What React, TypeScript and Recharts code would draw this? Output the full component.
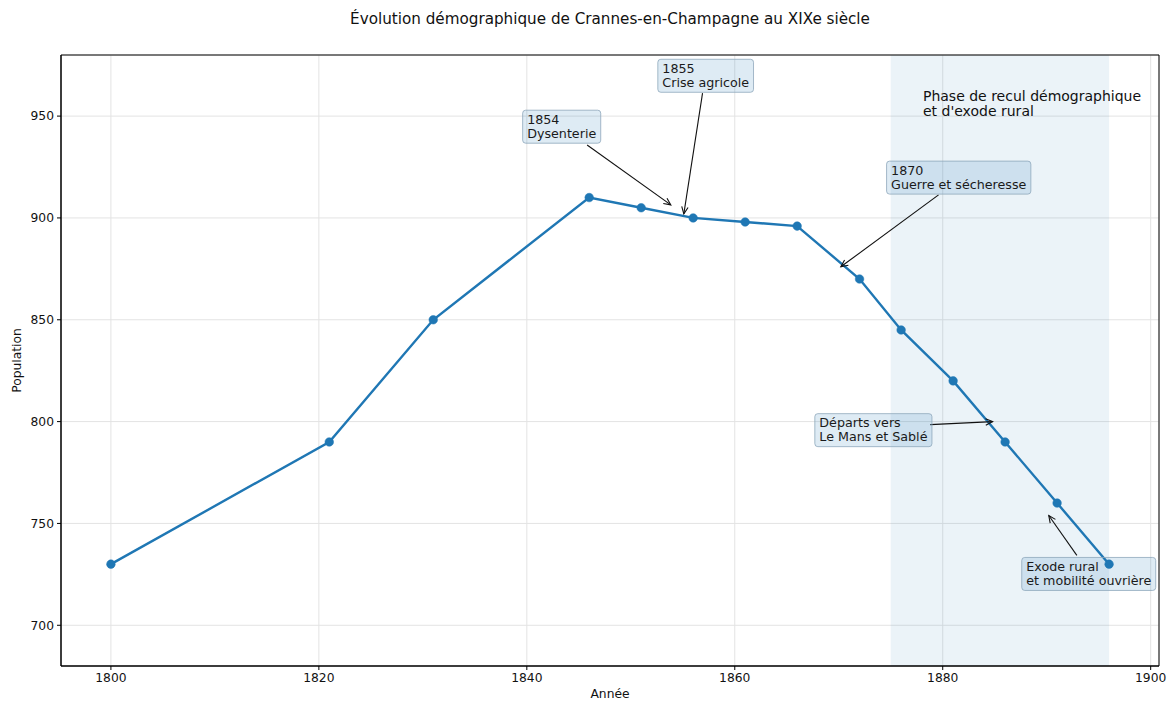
import React from 'react';
import {
  LineChart,
  Line,
  XAxis,
  YAxis,
  CartesianGrid,
  ReferenceArea,
  ReferenceLine,
  ReferenceDot,
} from 'recharts';

// ---- Data ----
const years = [1800, 1821, 1831, 1846, 1851, 1856, 1861, 1866, 1872, 1876, 1881, 1886, 1891, 1896];
const population = [730, 790, 850, 910, 905, 900, 898, 896, 870, 845, 820, 790, 760, 730];
const xTicks = [1800, 1820, 1840, 1860, 1880, 1900];
const yTicks = [700, 750, 800, 850, 900, 950];
const xDomain = [1795.2, 1900.8];
const yDomain = [680, 980];
const spanStart = 1875;
const spanEnd = 1896;

const title = 'Évolution démographique de Crannes-en-Champagne au XIXe siècle';
const xLabel = 'Année';
const yLabel = 'Population';
const phaseLines = ['Phase de recul démographique', "et d'exode rural"];
const phaseX = 1878.1;
const phaseY = 962.7;

const annotationLines = [
  ['1854', 'Dysenterie'],
  ['1855', 'Crise agricole'],
  ['1870', 'Guerre et sécheresse'],
  ['Départs vers', 'Le Mans et Sablé'],
  ['Exode rural', 'et mobilité ouvrière'],
];
const boxX = [1839.6, 1852.6, 1874.6, 1867.7, 1887.6];
const boxY = [952.9, 977.9, 927.9, 803.9, 733.3];
const tailX = [1845.8, 1856.9, 1879.6, 1878.8, 1892.9];
const tailY = [935.8, 961.3, 911.3, 798.5, 734.3];
const tipX = [1853.85, 1855.1, 1870.2, 1884.8, 1890.2];
const tipY = [906.4, 902.0, 876.0, 800.0, 753.9];

const data = years.map((y, i) => ({ year: y, population: population[i] }));

const FONT = "'DejaVu Sans', sans-serif";
const BLUE = '#1f77b4';
const ANN_FS = 12.7;

let ctx: CanvasRenderingContext2D | null = null;
function measure(text: string, fs: number): number {
  if (!ctx) {
    const c = document.createElement('canvas');
    ctx = c.getContext('2d');
  }
  if (!ctx) return text.length * fs * 0.6;
  ctx.font = `${fs}px 'DejaVu Sans'`;
  return ctx.measureText(text).width;
}

const makeBox = (lines: string[]) => (props: any) => {
  const { cx, cy } = props;
  if (cx == null || cy == null) return null;
  const padX = 4.5;
  const lh = 14.2;
  const w = Math.max(...lines.map((l) => measure(l, ANN_FS))) + padX * 2;
  const h = 33;
  return (
    <g>
      <rect
        x={cx}
        y={cy}
        width={w}
        height={h}
        rx={3}
        ry={3}
        fill={BLUE}
        fillOpacity={0.15}
        stroke="#8fa7bb"
        strokeOpacity={0.8}
        strokeWidth={1}
      />
      {lines.map((l, i) => (
        <text
          key={i}
          x={cx + padX}
          y={cy + 13.6 + i * lh}
          fontFamily={FONT}
          fontSize={ANN_FS}
          fill="#1a1a1a"
        >
          {l}
        </text>
      ))}
    </g>
  );
};

const arrowShape = (props: any) => {
  const { x1, y1, x2, y2 } = props;
  if ([x1, y1, x2, y2].some((v) => v == null || isNaN(v))) return null;
  const dx = x2 - x1;
  const dy = y2 - y1;
  const len = Math.sqrt(dx * dx + dy * dy) || 1;
  const ux = dx / len;
  const uy = dy / len;
  const hl = 7;
  const hw = 3.2;
  const bx = x2 - ux * hl;
  const by = y2 - uy * hl;
  const px = -uy;
  const py = ux;
  return (
    <g>
      <line x1={x1} y1={y1} x2={x2} y2={y2} stroke="#111" strokeWidth={1.1} />
      <polyline
        points={`${bx + px * hw},${by + py * hw} ${x2},${y2} ${bx - px * hw},${by - py * hw}`}
        fill="none"
        stroke="#111"
        strokeWidth={1.1}
      />
    </g>
  );
};

const phaseShape = (props: any) => {
  const { cx, cy } = props;
  if (cx == null || cy == null) return null;
  return (
    <g>
      {phaseLines.map((l, i) => (
        <text key={i} x={cx} y={cy + 11 + i * 15.2} fontFamily={FONT} fontSize={14} fill="#111">
          {l}
        </text>
      ))}
    </g>
  );
};

export default function App() {
  return (
    <div style={{ position: 'absolute', left: 0, top: 0, width: 1171, height: 703, background: '#fff' }}>
      <LineChart
        width={1171}
        height={703}
        data={data}
        margin={{ top: 55, right: 12, bottom: 7, left: 11 }}
      >
        <text x={610} y={24} textAnchor="middle" fontFamily={FONT} fontSize={15.2} fill="#111">
          {title}
        </text>
        <CartesianGrid stroke="#e3e3e3" strokeWidth={1} vertical horizontal />
        <ReferenceArea
          x1={spanStart}
          x2={spanEnd}
          y1={yDomain[0]}
          y2={yDomain[1]}
          fill={BLUE}
          fillOpacity={0.09}
          stroke="none"
          ifOverflow="visible"
        />
        <XAxis
          dataKey="year"
          type="number"
          domain={xDomain}
          ticks={xTicks}
          allowDataOverflow
          height={30}
          tickSize={4}
          tickMargin={3}
          stroke="#000"
          tick={{ fontFamily: FONT, fontSize: 12.3, fill: '#111' }}
          label={{ value: xLabel, position: 'insideBottom', offset: -2, fontFamily: FONT, fontSize: 12.3, fill: '#111' }}
        />
        <YAxis
          type="number"
          domain={yDomain}
          ticks={yTicks}
          allowDataOverflow
          width={50}
          tickSize={4}
          tickMargin={3}
          stroke="#000"
          tick={{ fontFamily: FONT, fontSize: 12.3, fill: '#111' }}
          label={{ value: yLabel, angle: -90, position: 'insideLeft', offset: 0, dx: 6, fontFamily: FONT, fontSize: 12.3, fill: '#111', style: { textAnchor: 'middle' } }}
        />
        <ReferenceArea
          x1={xDomain[0]}
          x2={xDomain[1]}
          y1={yDomain[0]}
          y2={yDomain[1]}
          fill="none"
          stroke="#000"
          strokeWidth={1}
          ifOverflow="visible"
        />
        <Line
          type="linear"
          dataKey="population"
          stroke={BLUE}
          strokeWidth={2.4}
          dot={{ r: 4.3, fill: BLUE, stroke: BLUE, strokeWidth: 0.5 }}
          activeDot={false}
          isAnimationActive={false}
        />
        {annotationLines.map((lines, i) => (
          <ReferenceLine
            key={`a${i}`}
            segment={[
              { x: tailX[i], y: tailY[i] },
              { x: tipX[i], y: tipY[i] },
            ]}
            ifOverflow="visible"
            shape={arrowShape}
          />
        ))}
        {annotationLines.map((lines, i) => (
          <ReferenceDot
            key={`b${i}`}
            x={boxX[i]}
            y={boxY[i]}
            r={0}
            ifOverflow="visible"
            shape={makeBox(lines)}
          />
        ))}
        <ReferenceDot x={phaseX} y={phaseY} r={0} ifOverflow="visible" shape={phaseShape} />
      </LineChart>
    </div>
  );
}
